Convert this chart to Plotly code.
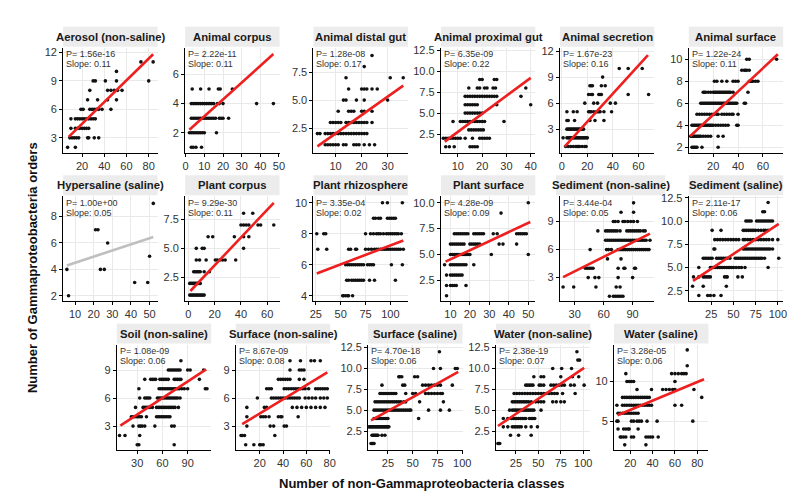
import plotly.graph_objects as go

# ---------------- data ----------------
panel_titles = ["Aerosol (non-saline)", "Animal corpus", "Animal distal gut", "Animal proximal gut",
                "Animal secretion", "Animal surface", "Hypersaline (saline)", "Plant corpus",
                "Plant rhizosphere", "Plant surface", "Sediment (non-saline)", "Sediment (saline)",
                "Soil (non-saline)", "Surface (non-saline)", "Surface (saline)", "Water (non-saline)",
                "Water (saline)"]

p_values = ["1.56e-16", "2.22e-11", "1.28e-08", "6.35e-09", "1.67e-23", "1.22e-24", "1.00e+00",
            "9.29e-30", "3.35e-04", "4.28e-09", "3.44e-04", "2.11e-17", "1.08e-09", "8.67e-09",
            "4.70e-18", "2.38e-19", "3.28e-05"]
slopes = ["0.11", "0.11", "0.17", "0.22", "0.16", "0.11", "0.05", "0.11", "0.02", "0.09",
          "0.05", "0.06", "0.06", "0.08", "0.06", "0.07", "0.06"]
significant = [True] * 6 + [False] + [True] * 10

# points: {orders (y): [classes (x), ...]}
aerosol_pts = {2: [7, 14], 3: [9, 11, 13, 15, 17, 25, 26, 31, 35], 4: [10, 14, 16, 18, 20, 22, 24, 26],
               5: [10, 14, 16, 18, 20, 22, 24, 26, 28, 30, 32], 6: [19, 21, 27, 29, 31, 33, 35, 38, 46],
               7: [25, 34, 43, 51], 8: [27, 43, 46, 49, 52, 56], 9: [30, 32, 41, 51, 80], 10: [51], 11: [73, 84]}
animal_corpus_pts = {1: [3, 4, 5.5, 8.5], 2: [2, 3, 4, 5, 6, 7, 8, 9, 10, 16.5],
                     3: [3, 4, 5, 6, 7, 8, 9, 10, 11, 12, 13, 14, 15, 16, 18, 19, 20, 23],
                     4: [3, 4, 5, 6, 7, 8, 9, 10, 11, 12, 13, 14, 15, 17, 18, 20, 38, 47],
                     5: [3.5, 8, 12.5, 17.5, 18.5, 25]}
distal_gut_pts = {1: [6, 7, 8, 9, 10, 11, 13, 14, 17, 18, 19, 21, 23, 25],
                  2: [3, 4, 6, 7, 8, 9, 10, 11, 12, 13, 14, 15, 16, 17, 18, 19, 20, 21, 22],
                  3: [8, 9, 10, 11, 12, 14, 15, 16, 17, 18, 19, 20, 21, 22, 24],
                  4: [11, 15, 16, 17, 20, 21, 24], 5: [13, 14, 18, 21, 30], 6: [15, 20, 21, 22, 24, 26],
                  7: [14, 31, 36], 8: [21], 9: [24]}
proximal_gut_pts = {1: [5, 6.5, 8.5, 15, 16, 17, 18],
                    2: [4, 5, 6, 7, 8, 9, 10, 11, 13, 16, 19, 20, 21, 22, 23],
                    3: [14.5, 15.5, 16.5, 17.5, 18.5, 19.5, 20.5],
                    4: [8, 11, 12, 13, 14, 15, 16, 17, 18, 19, 20, 21, 29],
                    5: [13, 14, 15, 16, 17, 18, 19, 20], 6: [13, 14, 15, 16, 17, 18, 26, 40],
                    7: [13, 14, 15, 16, 17, 18, 19, 20, 21, 22, 23, 24, 25, 26, 36],
                    8: [14.5, 18, 19, 21, 22, 24.5, 25.5, 38], 9: [19, 20, 25, 26]}
secretion_pts = {1: [3, 5, 7, 9, 11, 12, 13, 14, 16, 18, 19],
                 2: [1, 4, 5, 6, 7, 8, 9, 10, 11, 12, 13, 14, 15, 16, 17, 18, 19, 20],
                 3: [4, 5, 6, 7, 8, 9, 10, 11, 12, 13, 14, 15, 16, 17], 4: [4, 5, 10, 22, 26, 33],
                 5: [4, 9, 12, 21, 22, 23, 25, 27, 28, 29, 30, 33, 39], 6: [18, 25, 28, 38, 42],
                 7: [21, 23, 24, 29, 30, 31, 52, 68], 8: [22, 23, 24, 31, 34], 9: [32], 10: [45, 52, 63]}
animal_surface_pts = {2: [3, 4, 5, 6, 7, 11, 24], 3: [2, 3, 4, 5, 6, 7, 8, 9, 10, 12, 14, 16, 18, 24, 28],
                      4: [3, 4, 5, 6, 7, 8, 9, 10, 11, 12, 13, 14, 15, 16, 17, 18, 19, 20, 22, 24, 26, 28, 30, 32, 39, 40],
                      5: [7, 9, 11, 13, 15, 17, 19, 21, 23, 24, 27, 29, 31, 33, 35, 36, 40],
                      6: [10, 11, 12, 13, 14, 15, 16, 17, 18, 19, 20, 21, 22, 23, 24, 25, 26, 27, 28, 29, 30,
                          31, 32, 33, 34, 35, 36, 37, 38, 39, 45, 46],
                      7: [12, 13, 14, 16, 18, 20, 21, 22, 23, 24, 25, 26, 27, 28, 29, 30, 31, 32, 33, 34, 36, 48],
                      8: [21, 23, 27, 31, 36, 38, 40, 49, 50, 51, 52, 54, 56], 9: [43, 45, 46, 47, 49],
                      10: [47, 49, 71]}
hypersaline_pts = {2: [6.5], 3: [42, 49], 4: [5.6, 23.6, 25.7], 5: [50], 6: [27.5], 7: [21, 22.3], 9: [52]}
plant_corpus_pts = {1: [1, 2, 3, 4, 5, 6, 7, 8, 9, 10, 11, 12], 2: [1, 2, 3, 4, 5, 6, 7, 8, 9],
                    3: [4, 5, 6, 7, 8, 9, 12, 16], 4: [6, 8.5, 13.5, 20.5, 22, 24, 26, 28, 36],
                    5: [6, 10.5, 12, 42], 6: [15, 18.5, 35, 42, 46], 7: [40, 42, 44, 46, 53, 55, 65], 8: [42, 49]}
rhizosphere_pts = {4: [52, 53, 55, 57, 58, 62], 5: [56, 58, 61, 63, 65, 67, 69, 71, 73, 79, 84, 105],
                   6: [55, 57, 59, 61, 63, 65, 67, 69, 71, 73, 77, 79, 81, 83, 101, 112],
                   7: [27, 36, 58, 60, 65, 66, 75, 78, 81, 84, 86, 88, 90, 92, 94, 96, 98, 100, 102, 104, 106,
                       108, 110, 113],
                   8: [26, 33, 35, 75, 80, 83, 86, 88, 90, 93, 96, 98, 100, 102, 104, 106, 108, 111],
                   9: [83, 85, 88, 90, 97, 99, 101, 103, 105], 10: [92, 97, 112]}
plant_surface_pts = {1: [8], 2: [8, 10, 11, 12, 13, 18], 3: [8, 10, 11, 12, 13, 14, 15, 16],
                     4: [7, 10, 11, 12, 13, 14, 15, 16, 17, 18, 22],
                     5: [10, 11, 12, 13, 14, 15, 16, 17, 18, 19, 20, 31, 50],
                     6: [10, 11, 12, 13, 14, 15, 16, 17, 20, 21, 22, 23, 24, 25, 35, 37, 44],
                     7: [12, 13, 14, 15, 16, 17, 18, 19, 22, 23, 24, 25, 26, 27, 32, 34, 44, 45, 46, 47, 48, 49],
                     9: [36], 10: [50]}
sediment_ns_pts = {1: [66, 70, 72, 74, 76, 78, 80], 2: [18, 29, 52, 73, 77], 3: [44, 51, 55, 75, 90],
                   4: [41, 43, 45, 47, 49, 75, 81, 82, 92, 93], 5: [64, 78],
                   6: [46, 63, 65, 68, 75, 77, 79, 81, 83, 85, 87, 89, 91, 93, 95, 97, 99, 101, 103, 105, 107],
                   7: [62, 64, 66, 68, 70, 72, 74, 76, 78, 80, 82, 84, 86, 88, 90, 92, 94, 96, 98, 100, 102, 104, 108],
                   8: [54, 62, 64, 66, 68, 70, 72, 74, 77, 84, 86, 88, 90, 92, 94, 96, 98, 101, 103],
                   9: [70, 72, 75, 80, 82, 85, 88, 91, 95], 10: [78, 91], 11: [91]}
sediment_s_pts = {2: [11, 21, 24, 28, 36], 3: [4, 16, 42], 4: [5, 11, 16, 18, 20, 22, 24, 40, 42, 43, 55, 60],
                  5: [11, 24, 26, 28, 30, 32, 34, 36, 38, 40, 42, 44, 46, 48, 50, 53, 56, 59, 63, 89],
                  6: [16, 18, 20, 22, 24, 26, 31, 33, 35, 37, 39, 41, 43, 46, 52, 54, 56, 58, 60, 62, 64, 66,
                      68, 70, 72, 74, 76, 78, 80, 82, 85, 101],
                  7: [28, 29, 61, 63, 65, 67, 69, 71, 73, 75, 77, 79, 81, 83, 85, 87, 89, 91, 94],
                  8: [29, 32, 35, 38, 41, 44, 47, 50, 53, 56, 61, 63, 66, 69, 72, 75, 78, 81, 84, 87, 90, 94, 100],
                  9: [26, 36, 61, 63, 65, 67, 69, 71, 73, 75, 78, 81, 84, 86, 89],
                  10: [64, 66, 68, 70, 76, 78, 80, 82, 84, 86, 88, 90, 92, 94], 11: [83, 85], 12: [89]}
soil_pts = {1: [30, 32, 74], 2: [9, 15.5, 33], 3: [25, 32, 34, 36, 39, 51, 71, 74],
            4: [23, 25, 27, 29, 31, 33, 35, 41, 53, 55, 57, 59, 61, 63, 65, 67, 69],
            5: [28, 37, 39, 41, 43, 45, 48, 53, 55, 57, 59, 61, 63, 65, 67, 69, 71, 73, 75, 79],
            6: [33, 39, 41, 43, 45, 54, 56, 58, 60, 62, 64, 66, 68, 70, 72, 74, 76, 78, 81],
            7: [32, 56, 58, 60, 62, 64, 66, 68, 70, 72, 74, 76, 78, 80, 83, 86, 90, 111, 113],
            8: [39, 46, 48, 50, 52, 57, 59, 61, 63, 65, 67, 74, 76, 78, 80, 82, 104],
            9: [67, 69, 71, 73, 75, 77, 79, 81, 90, 93, 109], 10: [82]}
surface_ns_pts = {1: [8, 15, 20, 21, 23], 2: [4, 5, 7, 33], 3: [9, 29, 32, 41, 43],
                  4: [9, 21, 23, 25, 28, 36, 38, 39, 53], 5: [9, 24, 26, 48, 52, 56, 60, 64, 68, 72, 76],
                  6: [18, 30, 32, 34, 36, 38, 40, 42, 44, 46, 48, 50, 52, 54, 59, 62, 65, 68, 72, 75, 78],
                  7: [26, 28, 30, 41, 43, 45, 47, 49, 51, 53, 55, 57, 59, 62, 68, 70, 72, 74, 76, 78],
                  8: [36, 38, 40, 42, 44, 46, 54, 58], 9: [46, 54, 56, 58], 10: [46, 55, 64, 67, 72]}
surface_s_pts = {1: [8, 9, 10, 11], 2: [9, 10, 11, 12, 13, 14, 15, 19, 22],
                 3: [6, 7, 8, 9, 10, 11, 12, 13, 14, 15, 16, 17, 18, 19, 20, 21, 22, 23, 24, 25, 26],
                 4: [11, 13, 15, 17, 19, 21, 23, 25, 56],
                 5: [11, 13, 15, 17, 19, 21, 23, 25, 27, 29, 31, 33, 35, 37, 39, 41, 43, 45, 47, 48, 66, 78, 87],
                 6: [12, 14, 16, 18, 20, 22, 24, 26, 28, 30, 32, 34, 36, 38, 41, 43, 57, 81],
                 7: [17, 19, 21, 23, 25, 27, 29, 31, 33, 43, 50, 53, 63, 66, 69, 72, 75, 78, 80],
                 8: [19, 40, 42, 60, 63, 66, 69, 72, 75, 78, 90], 9: [36, 37, 39, 52, 55],
                 10: [71, 78, 93, 95], 12: [77]}
water_ns_pts = {1: [5, 6, 7], 2: [19, 28, 42], 3: [11, 16, 21, 23, 25, 27, 29, 31, 36, 42, 49],
                4: [11, 16, 20, 22, 24, 26, 28, 30, 32, 34, 36, 40, 42, 44, 46],
                5: [18, 21, 23, 25, 27, 29, 31, 33, 35, 37, 39, 41, 43, 45, 53],
                6: [21, 23, 25, 27, 29, 31, 33, 35, 37, 39, 42, 47, 50, 53, 56, 66, 70, 75, 79],
                7: [23, 26, 29, 32, 35, 38, 41, 44, 47, 50, 53, 56, 59, 62, 65, 68, 71, 77, 91],
                8: [36, 38, 40, 42, 44, 51, 53, 56, 64, 67, 70, 73, 76, 79, 86, 90, 101],
                9: [45, 53, 56, 75, 88, 95], 10: [66, 76, 87], 11: [94, 96], 12: [93]}
water_s_pts = {2: [15, 34], 3: [11, 12, 14, 16, 21, 23, 34, 36, 38, 40, 45], 4: [9, 14, 16, 18, 19, 27],
               5: [8, 9, 21, 23, 26, 28, 30, 35, 44, 76], 6: [9, 11, 13, 15, 17, 19, 21, 23, 25, 27],
               7: [8, 13, 15, 17, 19, 21, 23, 25, 27, 29, 31, 33, 35, 37, 39, 60, 66],
               8: [13, 15, 17, 19, 21, 23, 25, 27, 29, 31, 33, 35, 37, 84],
               9: [26, 39, 49, 52, 55, 58, 60, 77], 10: [17, 19, 21, 23, 60],
               11: [16, 57, 60, 63, 66, 68, 70], 12: [71], 14: [71]}

panel_points = [aerosol_pts, animal_corpus_pts, distal_gut_pts, proximal_gut_pts, secretion_pts,
                animal_surface_pts, hypersaline_pts, plant_corpus_pts, rhizosphere_pts, plant_surface_pts,
                sediment_ns_pts, sediment_s_pts, soil_pts, surface_ns_pts, surface_s_pts, water_ns_pts,
                water_s_pts]

# fitted line end points (x0, y0, x1, y1)
fit_lines = [(8, 3.1, 84, 11.8), (2, 2.2, 47, 7.4), (3, 0.85, 36, 6.3), (4.6, 1.6, 40, 9.2),
             (2.2, 0.98, 67.5, 11.55), (1.5, 3.0, 72, 10.45), (5.6, 4.3, 52, 6.45), (1.5, 1.35, 65, 8.9),
             (26, 5.44, 113, 7.57), (7.5, 4.3, 51, 8.14), (18, 3.05, 108, 7.7), (4.5, 3.57, 101, 9.7),
             (10, 3.05, 112, 9.07), (5, 3.2, 78, 8.75), (8, 3.77, 96, 9.6), (5, 3.1, 101, 10.08),
             (8.5, 5.75, 86, 10.3)]

x_ranges = [(3, 88), (-0.3, 50.3), (1.5, 37.8), (3, 41.9), (-1.5, 72.5), (0.4, 76.3), (3.6, 54.3),
            (-2.5, 69.4), (22.7, 117.6), (5.1, 53.6), (14.7, 112.5), (-0.3, 106), (5.7, 118),
            (-0.5, 80.5), (5, 100.3), (2.8, 108), (5.4, 90)]
y_ranges = [(1.45, 12.5), (0.64, 7.84), (0.3, 9.7), (0.3, 12.8), (0.3, 12.4), (1.52, 11.05), (1.6, 9.55),
            (0.49, 9.47), (3.66, 10.43), (0.49, 10.64), (0.49, 11.72), (1.4, 12.68), (0.49, 11.72),
            (0.49, 11.72), (0.28, 12.86), (0.28, 12.86), (1.41, 14.67)]

x_ticks = [[20, 40, 60, 80], [0, 10, 20, 30, 40, 50], [10, 20, 30], [10, 20, 30, 40], [0, 20, 40, 60],
           [0, 20, 40, 60], [10, 20, 30, 40, 50], [0, 20, 40, 60], [25, 50, 75, 100], [10, 20, 30, 40, 50],
           [30, 60, 90], [25, 50, 75, 100], [30, 60, 90], [20, 40, 60, 80], [25, 50, 75, 100],
           [25, 50, 75, 100], [20, 40, 60, 80]]
y_ticks = [[3, 6, 9, 12], [2, 4, 6], [2.5, 5, 7.5], [2.5, 5, 7.5, 10, 12.5], [3, 6, 9, 12], [2, 4, 6, 8, 10],
           [2, 4, 6, 8], [2.5, 5, 7.5], [4, 6, 8, 10], [2.5, 5, 7.5, 10], [3, 6, 9], [2.5, 5, 7.5, 10, 12.5],
           [3, 6, 9], [3, 6, 9], [2.5, 5, 7.5, 10, 12.5], [2.5, 5, 7.5, 10, 12.5], [5, 10]]

x_title = "Number of non-Gammaproteobacteria classes"
y_title = "Number of Gammaproteobacteria orders"

# ---------------- layout (pixel boxes: left, right, top, bottom) ----------------
W, H = 796, 496
col_l1 = [52, 176, 306.5, 436, 557, 688]
col_l3 = [106.5, 227.5, 362, 492, 612]
PW = 96
boxes = []
for t, b in [(36, 142), (186, 292)]:
    for l in col_l1:
        boxes.append((l, l + PW, t, b))
for l in col_l3:
    boxes.append((l, l + PW, 336, 442))

FONT = "Liberation Sans, Arial, Helvetica, sans-serif"
TXT = "#333333"

fig = go.Figure()
layout = dict(width=W, height=H, margin=dict(l=0, r=0, t=0, b=0), paper_bgcolor="white",
              plot_bgcolor="white", showlegend=False, font=dict(family=FONT, size=11, color=TXT))
shapes, annotations = [], []

for i in range(17):
    suf = "" if i == 0 else str(i + 1)
    l, r, t, b = boxes[i]
    xs, ys = [], []
    for yv, xl in panel_points[i].items():
        for xv in xl:
            xs.append(xv)
            ys.append(yv)
    fig.add_trace(go.Scatter(x=xs, y=ys, mode="markers", marker=dict(size=3.6, color="#111111"),
                             xaxis="x" + suf, yaxis="y" + suf, hoverinfo="skip"))
    x0, y0, x1, y1 = fit_lines[i]
    fig.add_trace(go.Scatter(x=[x0, x1], y=[y0, y1], mode="lines",
                             line=dict(color="#ee1f1f" if significant[i] else "#bfbfbf", width=2.6),
                             xaxis="x" + suf, yaxis="y" + suf, hoverinfo="skip"))
    yt = y_ticks[i]
    decimal = any(abs(v - round(v)) > 1e-9 for v in yt)
    ytext = [f"{v:.1f}" if decimal else f"{int(v)}" for v in yt]
    common = dict(showline=True, linecolor="black", linewidth=1.1, ticks="outside", ticklen=3,
                  tickwidth=1, tickcolor="black", showgrid=True, gridcolor="#e9e9e9", gridwidth=1,
                  zeroline=False, tickfont=dict(size=11, color=TXT), fixedrange=True)
    layout["xaxis" + suf] = dict(domain=[l / W, r / W], anchor="y" + suf, range=list(x_ranges[i]),
                                 tickvals=x_ticks[i], ticktext=[str(v) for v in x_ticks[i]], **common)
    layout["yaxis" + suf] = dict(domain=[1 - b / H, 1 - t / H], anchor="x" + suf, range=list(y_ranges[i]),
                                 tickvals=yt, ticktext=ytext, **common)
    # strip
    sl, sr = (l, r)
    if panel_titles[i] == "Sediment (non-saline)":
        sl, sr = l - 4, r + 11
    shapes.append(dict(type="rect", xref="paper", yref="paper", x0=sl / W, x1=sr / W,
                       y0=1 - (t - 1) / H, y1=1 - (t - 21) / H, fillcolor="#ececec", line=dict(width=0),
                       layer="below"))
    annotations.append(dict(x=(sl + sr) / 2 / W, y=1 - (t - 11) / H, xref="paper", yref="paper",
                            text="<b>" + panel_titles[i] + "</b>", showarrow=False, xanchor="center",
                            yanchor="middle", font=dict(size=11.3, color="#1a1a1a")))
    annotations.append(dict(x=(l + 2) / W, y=1 - (t + 6.5) / H, xref="paper", yref="paper",
                            text="P= " + p_values[i], showarrow=False, xanchor="left", yanchor="middle",
                            borderpad=0, font=dict(size=9, color=TXT)))
    annotations.append(dict(x=(l + 2) / W, y=1 - (t + 17) / H, xref="paper", yref="paper",
                            text="Slope: " + slopes[i], showarrow=False, xanchor="left", yanchor="middle",
                            borderpad=0, font=dict(size=9, color=TXT)))

annotations.append(dict(x=416 / W, y=1 - 476 / H, xref="paper", yref="paper", text="<b>" + x_title + "</b>",
                        showarrow=False, xanchor="center", yanchor="middle", font=dict(size=13, color="#111111")))
annotations.append(dict(x=21 / W, y=1 - 258 / H, xref="paper", yref="paper", text="<b>" + y_title + "</b>",
                        showarrow=False, xanchor="center", yanchor="middle", textangle=-90,
                        font=dict(size=13, color="#111111")))

layout["shapes"] = shapes
layout["annotations"] = annotations
fig.update_layout(**layout)
fig.write_html("out.html")
